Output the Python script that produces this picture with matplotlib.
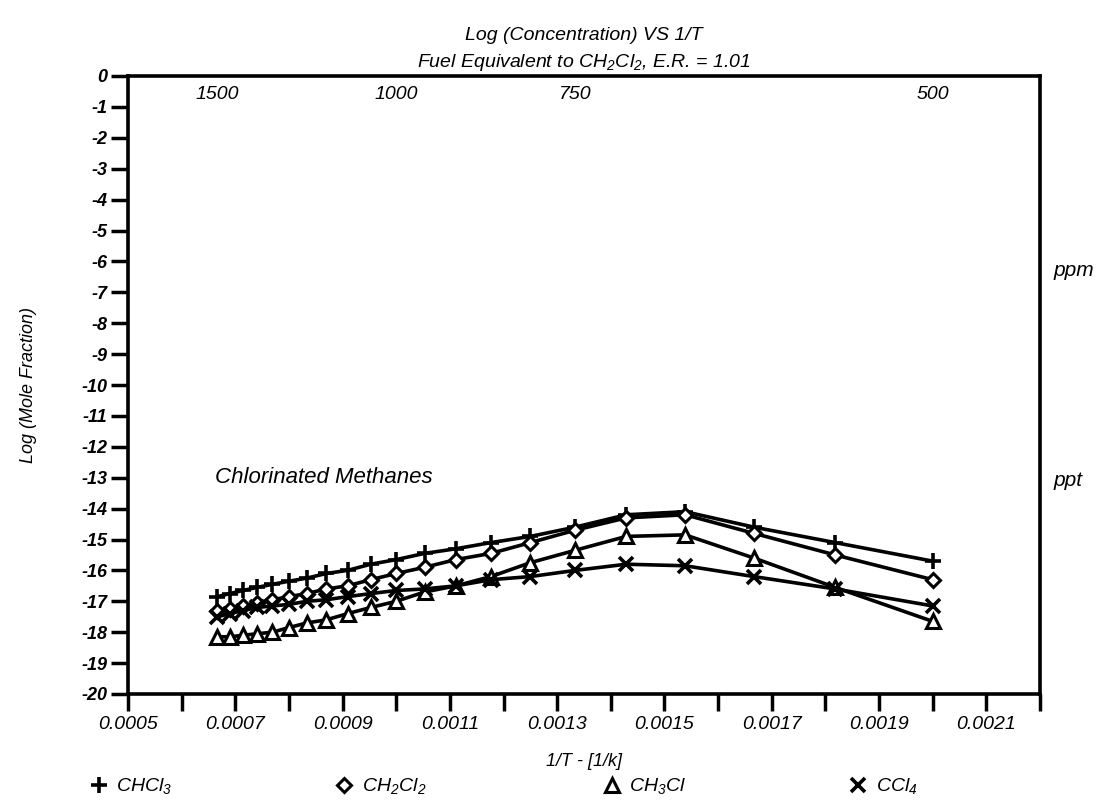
import matplotlib
matplotlib.use("Agg")
import matplotlib.pyplot as plt
from matplotlib.lines import Line2D

plt.rcParams['font.family'] = ['Liberation Sans', 'DejaVu Sans']
plt.rcParams['font.style'] = 'italic'
plt.rcParams['mathtext.fontset'] = 'custom'
plt.rcParams['mathtext.rm'] = 'Liberation Sans:italic'
plt.rcParams['mathtext.it'] = 'Liberation Sans:italic'

# temperatures (K), 1500 down to 500 in 50 K steps
temps = [1500, 1450, 1400, 1350, 1300, 1250, 1200, 1150, 1100, 1050, 1000,
         950, 900, 850, 800, 750, 700, 650, 600, 550, 500]
inv_t = [1.0 / t for t in temps]

chcl3 = [-16.85, -16.75, -16.65, -16.55, -16.45, -16.35, -16.25, -16.1, -16.0, -15.8, -15.65,
         -15.45, -15.3, -15.1, -14.9, -14.6, -14.2, -14.1, -14.6, -15.1, -15.7]
ch2cl2 = [-17.3, -17.25, -17.15, -17.05, -16.95, -16.85, -16.75, -16.6, -16.5, -16.3, -16.1,
          -15.9, -15.65, -15.45, -15.1, -14.7, -14.3, -14.2, -14.8, -15.5, -16.3]
ch3cl = [-18.15, -18.15, -18.1, -18.05, -18.0, -17.85, -17.7, -17.6, -17.4, -17.2, -17.0,
         -16.7, -16.5, -16.2, -15.75, -15.35, -14.9, -14.85, -15.6, -16.55, -17.65]
ccl4 = [-17.5, -17.4, -17.3, -17.2, -17.15, -17.1, -17.0, -16.95, -16.85, -16.75, -16.65,
        -16.6, -16.5, -16.3, -16.2, -16.0, -15.8, -15.85, -16.2, -16.6, -17.15]

series_labels = [r'CHCl$_3$', r'CH$_2$Cl$_2$', r'CH$_3$Cl', r'CCl$_4$']
top_temps = [1500, 1000, 750, 500]
xtick_vals = [0.0005, 0.0007, 0.0009, 0.0011, 0.0013, 0.0015, 0.0017, 0.0019, 0.0021]

styles = [
    dict(marker='+', ms=12, mew=2.6, mfc='black'),
    dict(marker='D', ms=7.5, mew=2.2, mfc='white'),
    dict(marker='^', ms=10, mew=2.2, mfc='white'),
    dict(marker='x', ms=9.5, mew=2.6, mfc='black'),
]

fig = plt.figure(figsize=(11.01, 8.0), dpi=100)
ax = fig.add_axes([0.1163, 0.1325, 0.8283, 0.7725])

for vals, st in zip([chcl3, ch2cl2, ch3cl, ccl4], styles):
    ax.plot(inv_t, vals, color='black', lw=2.6, mec='black', **st)

ax.set_xlim(0.0005, 0.0022)
ax.set_ylim(-20, 0)
ax.set_xticks(xtick_vals)
ax.set_xticklabels([f"{v:.4f}" for v in xtick_vals], fontsize=14)
ax.set_xticks([0.0006 + 0.0002 * i for i in range(9)], minor=True)
ax.set_yticks(range(-20, 1))
ax.set_yticklabels([str(v) for v in range(-20, 1)], fontsize=13, fontweight='bold')
ax.tick_params(axis='both', which='both', direction='out', length=12, width=2.5,
               top=False, right=False)
ax.tick_params(axis='x', pad=4)
ax.tick_params(axis='y', pad=3)
for sp in ax.spines.values():
    sp.set_linewidth(2.6)

ax.set_xlabel('1/T - [1/k]', fontsize=13, labelpad=14)
ax.set_ylabel('Log (Mole Fraction)', fontsize=13, labelpad=32)

for t in top_temps:
    ax.text(1.0 / t, -0.6, str(t), fontsize=14, ha='center', va='center')

ax.text(0.000662, -13.0, 'Chlorinated Methanes', fontsize=16, ha='left', va='center')
ax.text(1.015, -6.3, 'ppm', transform=ax.get_yaxis_transform(), fontsize=15, ha='left', va='center')
ax.text(1.015, -13.1, 'ppt', transform=ax.get_yaxis_transform(), fontsize=15, ha='left', va='center')

fig.text(0.53, 0.956, 'Log (Concentration) VS 1/T', fontsize=14, ha='center', va='center')
fig.text(0.53, 0.922, r'Fuel Equivalent to CH$_2$Cl$_2$, E.R. = 1.01', fontsize=14,
         ha='center', va='center')

# legend entries spread along the bottom
leg_x = [0.072, 0.295, 0.538, 0.762]
for lx, lab, st in zip(leg_x, series_labels, styles):
    h = Line2D([], [], color='black', ls='none', mec='black', **st)
    fig.legend([h], [lab], loc='center left', bbox_to_anchor=(lx, 0.017), frameon=False,
               fontsize=14, handlelength=1.0, handletextpad=0.4, borderpad=0)

fig.savefig('out.png', dpi=100)
